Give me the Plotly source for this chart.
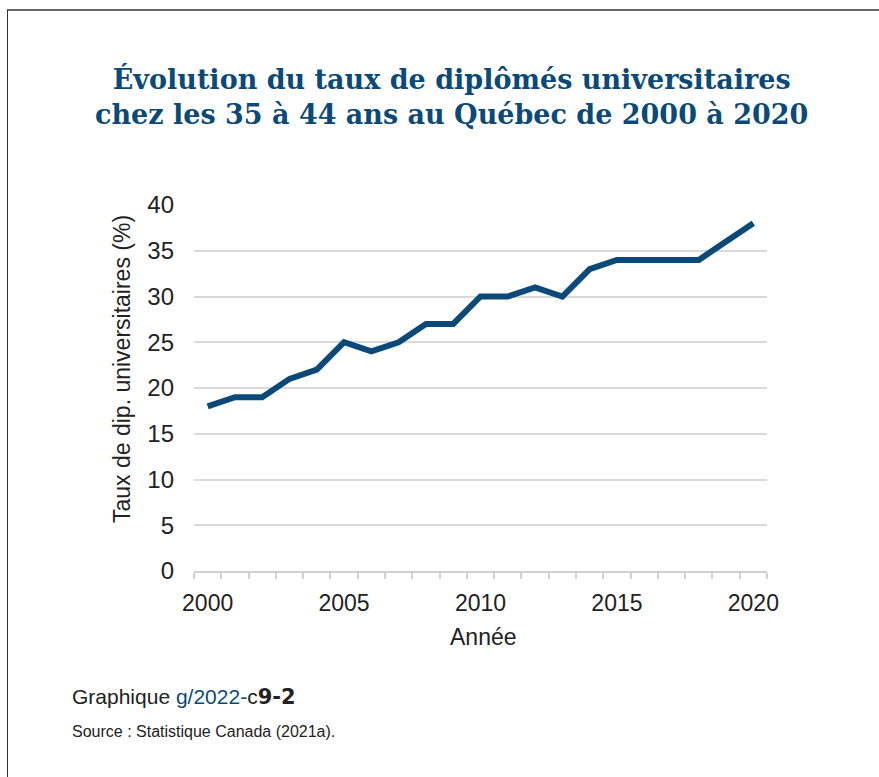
import plotly.graph_objects as go

years = list(range(2000, 2021))
taux = [18, 19, 19, 21, 22, 25, 24, 25, 27, 27, 30, 30, 31, 30, 33, 34, 34, 34, 34, 36, 38]
x_ticks = [2000, 2005, 2010, 2015, 2020]
y_ticks = [0, 5, 10, 15, 20, 25, 30, 35, 40]

title_l1 = "Évolution du taux de diplômés universitaires"
title_l2 = "chez les 35 à 44 ans au Québec de 2000 à 2020"
y_title = "Taux de dip. universitaires (%)"
x_title = "Année"
source = "Source : Statistique Canada (2021a)."

W, H = 879, 777
L, R, T, B = 194, 767, 205, 571

def px(x):
    return (x - L) / (R - L)

def py(y):
    return (B - y) / (B - T)

BLUE = "#0b4a78"
TXT = "#222222"

fig = go.Figure()
fig.add_trace(go.Scatter(x=years, y=taux, mode="lines",
                         line=dict(color=BLUE, width=6), hoverinfo="x+y"))

fig.update_layout(
    width=W, height=H,
    margin=dict(l=L, r=W - R, t=T, b=H - B, autoexpand=False),
    paper_bgcolor="white", plot_bgcolor="white",
    showlegend=False,
    font=dict(family="Liberation Sans, Arial, sans-serif", color=TXT),
    xaxis=dict(
        range=[1999.5, 2020.5], tickvals=x_ticks, ticktext=[str(v) for v in x_ticks],
        ticks="", showgrid=False, zeroline=False,
        showline=True, linecolor="#d0d0d0", linewidth=2,
        tickfont=dict(size=23, color=TXT), ticklabelstandoff=10,
        minor=dict(tickmode="array", tickvals=[1999.5 + i for i in range(22)],
                   ticks="outside", ticklen=6, tickcolor="#d0d0d0", tickwidth=1.5),
        fixedrange=True,
    ),
    yaxis=dict(
        range=[0, 40], tickvals=y_ticks, ticks="", showline=False, zeroline=False,
        showgrid=True, gridcolor="#d9d9d9", gridwidth=1.5,
        tickfont=dict(size=24, color=TXT), ticklabelstandoff=19,
        fixedrange=True,
    ),
    annotations=[
        dict(text=title_l1 + "<br>" + title_l2, xref="paper", yref="paper",
             x=px(451), y=py(97), xanchor="center", yanchor="middle",
             showarrow=False, align="center",
             font=dict(family="DejaVu Serif, serif", size=27, color=BLUE, weight="bold")),
        dict(text=y_title, xref="paper", yref="paper", x=px(122), y=py(369),
             xanchor="center", yanchor="middle", textangle=-90, showarrow=False,
             font=dict(size=23, color=TXT)),
        dict(text=x_title, xref="paper", yref="paper", x=px(483), y=py(637),
             xanchor="center", yanchor="middle", showarrow=False,
             font=dict(size=23, color=TXT)),
        dict(text="Graphique <span style='color:%s'>g/2022-</span>c<span style='font-family:DejaVu Sans;font-weight:bold'>9-2</span>" % BLUE,
             xref="paper", yref="paper", x=px(70), y=py(697),
             xanchor="left", yanchor="middle", showarrow=False,
             font=dict(size=21, color=TXT)),
        dict(text=source, xref="paper", yref="paper", x=px(70), y=py(731),
             xanchor="left", yanchor="middle", showarrow=False,
             font=dict(size=16, color=TXT)),
    ],
    shapes=[
        dict(type="line", xref="paper", yref="paper", x0=px(7), x1=px(879), y0=py(10), y1=py(10),
             line=dict(color="#333333", width=1.5)),
        dict(type="line", xref="paper", yref="paper", x0=px(7.5), x1=px(7.5), y0=py(10), y1=py(777),
             line=dict(color="#333333", width=1)),
    ],
)

fig.write_html("out.html", config={"displayModeBar": False},
               post_script="document.body.style.margin='0px';")
